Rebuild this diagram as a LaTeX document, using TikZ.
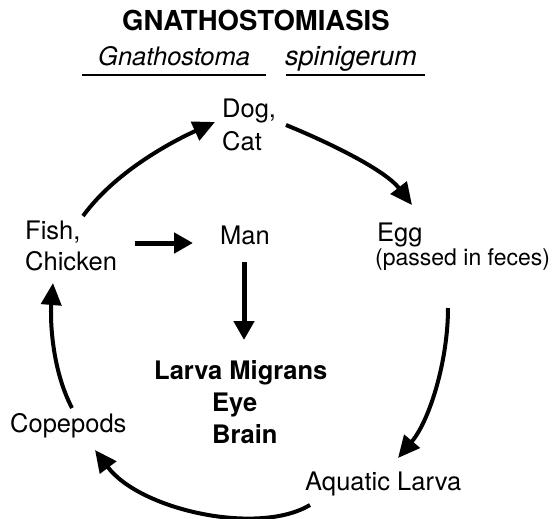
\documentclass[tikz,border=0pt]{standalone}
\usepackage{fontspec}
\setmainfont{TeX Gyre Heros}
\usetikzlibrary{arrows.meta}
\begin{document}
\begin{tikzpicture}[x=1pt,y=-1pt,
  lbl/.style={anchor=base west,inner sep=0pt,font=\fontsize{25.5}{30}\selectfont},
  blbl/.style={lbl,font=\fontsize{25.5}{30}\selectfont\bfseries},
  curved/.style={line width=4pt,-{Triangle[length=22pt,width=20pt]}},
  straight/.style={line width=5pt,-{Triangle[length=19pt,width=20pt]}},
  uline/.style={line width=1.4pt}]
\useasboundingbox (0,0) rectangle (554,519);
% title
\node[lbl,font=\fontsize{27.5}{30}\selectfont\bfseries] (title) at (122,31) {GNATHOSTOMIASIS};
\node[lbl,font=\fontsize{25.5}{30}\selectfont\itshape] (genus) at (98,66) {Gnathostoma};
\node[lbl,font=\fontsize{27}{30}\selectfont\itshape] (species) at (285,66) {spinigerum};
\coordinate (u1a) at (82,75); \coordinate (u1b) at (266,75);
\coordinate (u2a) at (286,75); \coordinate (u2b) at (425,75);
\draw[uline] (u1a) -- (u1b);
\draw[uline] (u2a) -- (u2b);
% labels
\node[lbl] (dog) at (222,117) {Dog,};
\node[lbl] (cat) at (222,150) {Cat};
\node[lbl] (fish) at (25,239) {Fish,};
\node[lbl] (chicken) at (25,270) {Chicken};
\node[lbl] (man) at (220,244) {Man};
\node[lbl] (egg) at (377,241) {Egg};
\node[lbl,font=\fontsize{23}{28}\selectfont] (feces) at (375,265) {(passed in feces)};
\node[blbl] (lm) at (154,379) {Larva Migrans};
\node[blbl] (eye) at (212,411) {Eye};
\node[blbl] (brain) at (212,443) {Brain};
\node[lbl] (cope) at (10,432) {Copepods};
\node[lbl] (aqua) at (305,490) {Aquatic Larva};
% arrow end points
\coordinate (a1s) at (83,216); \coordinate (a1e) at (215,122);
\coordinate (a2s) at (286,125); \coordinate (a2e) at (412,205);
\coordinate (a3s) at (448,308); \coordinate (a3e) at (398,458);
\coordinate (a4s) at (310,505); \coordinate (a4e) at (95,450);
\coordinate (a5s) at (72,408); \coordinate (a5e) at (53,283);
\coordinate (a6s) at (135,243); \coordinate (a6e) at (193,243);
\coordinate (a7s) at (244,262); \coordinate (a7e) at (244,340);
% cycle arrows
\draw[curved] (a1s) .. controls (118,168) and (180,138) .. (a1e);
\draw[curved] (a2s) .. controls (330,143) and (385,170) .. (a2e);
\draw[curved] (a3s) .. controls (448,360) and (430,420) .. (a3e);
\draw[curved] (a4s) .. controls (258,536) and (140,510) .. (a4e);
\draw[curved] (a5s) .. controls (52,370) and (50,320) .. (a5e);
% straight arrows
\draw[straight] (a6s) -- (a6e);
\draw[straight] (a7s) -- (a7e);
\end{tikzpicture}
\end{document}
